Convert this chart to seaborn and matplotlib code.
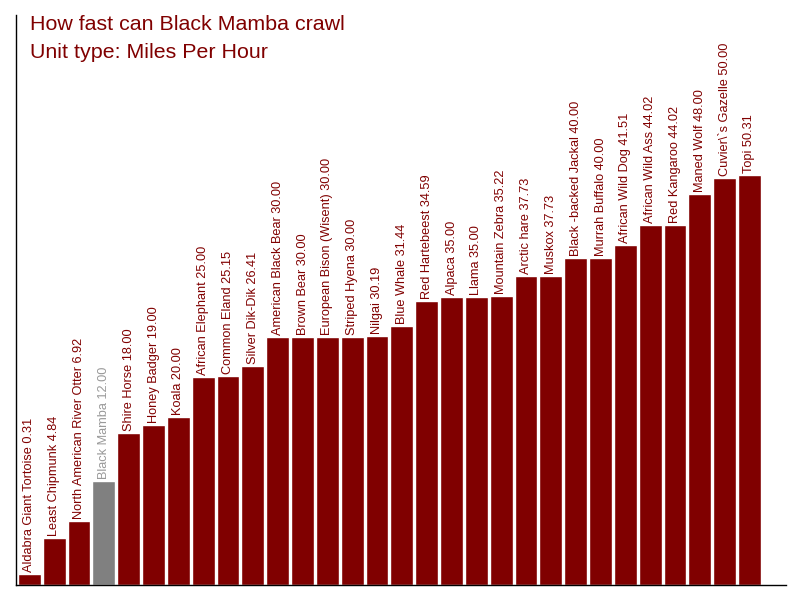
import matplotlib
matplotlib.use("Agg")
import matplotlib.pyplot as plt
import seaborn as sns

# Animal speeds, in miles per hour
animals = ['Aldabra Giant Tortoise', 'Least Chipmunk', 'North American River Otter',
           'Black Mamba', 'Shire Horse', 'Honey Badger', 'Koala', 'African Elephant',
           'Common Eland', 'Silver Dik-Dik', 'American Black Bear', 'Brown Bear',
           'European Bison (Wisent)', 'Striped Hyena', 'Nilgai', 'Blue Whale',
           'Red Hartebeest', 'Alpaca', 'Llama', 'Mountain Zebra', 'Arctic hare',
           'Muskox', 'Black -backed Jackal', 'Murrah Buffalo', 'African Wild Dog',
           'African Wild Ass', 'Red Kangaroo', 'Maned Wolf', 'Cuvier\\`s Gazelle', 'Topi']
speeds = [0.31, 4.84, 6.92, 12.00, 18.00, 19.00, 20.00, 25.00, 25.15, 26.41,
          30.00, 30.00, 30.00, 30.00, 30.19, 31.44, 34.59, 35.00, 35.00, 35.22,
          37.73, 37.73, 40.00, 40.00, 41.51, 44.02, 44.02, 48.00, 50.00, 50.31]
highlight = 'Black Mamba'

RED = '#800000'
GREY = '#808080'
GREY_TEXT = '#999999'

sns.set_style("white")
plt.rcParams['font.family'] = ['Liberation Sans', 'DejaVu Sans']

fig = plt.figure(figsize=(8, 6), dpi=100)
ax = fig.add_axes([15.5 / 800, 15 / 600, 770.5 / 800, 570 / 600])

colors = [GREY if a == highlight else RED for a in animals]
sns.barplot(x=animals, y=speeds, hue=animals, palette=colors, width=0.92,
            saturation=1, legend=False, ax=ax)

# bars are drawn from below the axis line, so the baseline sits a bit under zero
for b in ax.patches:
    b.set_y(-1.05)
    b.set_height(b.get_height() + 1.05)

for i, (a, v) in enumerate(zip(animals, speeds)):
    ax.annotate(f"{a} {v:.2f}", (i, v), xytext=(0, 2), textcoords='offset pixels',
                rotation=90, ha='center', va='bottom', fontsize=9.2,
                color=GREY_TEXT if a == highlight else RED)

ax.set_xlim(-0.56, 30.47)
ax.set_ylim(-1.05, 70.4)
ax.set_xticks([])
ax.set_yticks([])
ax.set_xlabel('')
ax.set_ylabel('')
for s in ['top', 'right']:
    ax.spines[s].set_visible(False)
for s in ['left', 'bottom']:
    ax.spines[s].set_color('black')
    ax.spines[s].set_linewidth(1)

fig.text(29.5 / 800, 1 - 30 / 600, "How fast can Black Mamba crawl", color=RED,
         fontsize=15.4, va='baseline', ha='left')
fig.text(29.5 / 800, 1 - 58.5 / 600, "Unit type: Miles Per Hour", color=RED,
         fontsize=15.4, va='baseline', ha='left')

fig.savefig('out.png', dpi=100)
